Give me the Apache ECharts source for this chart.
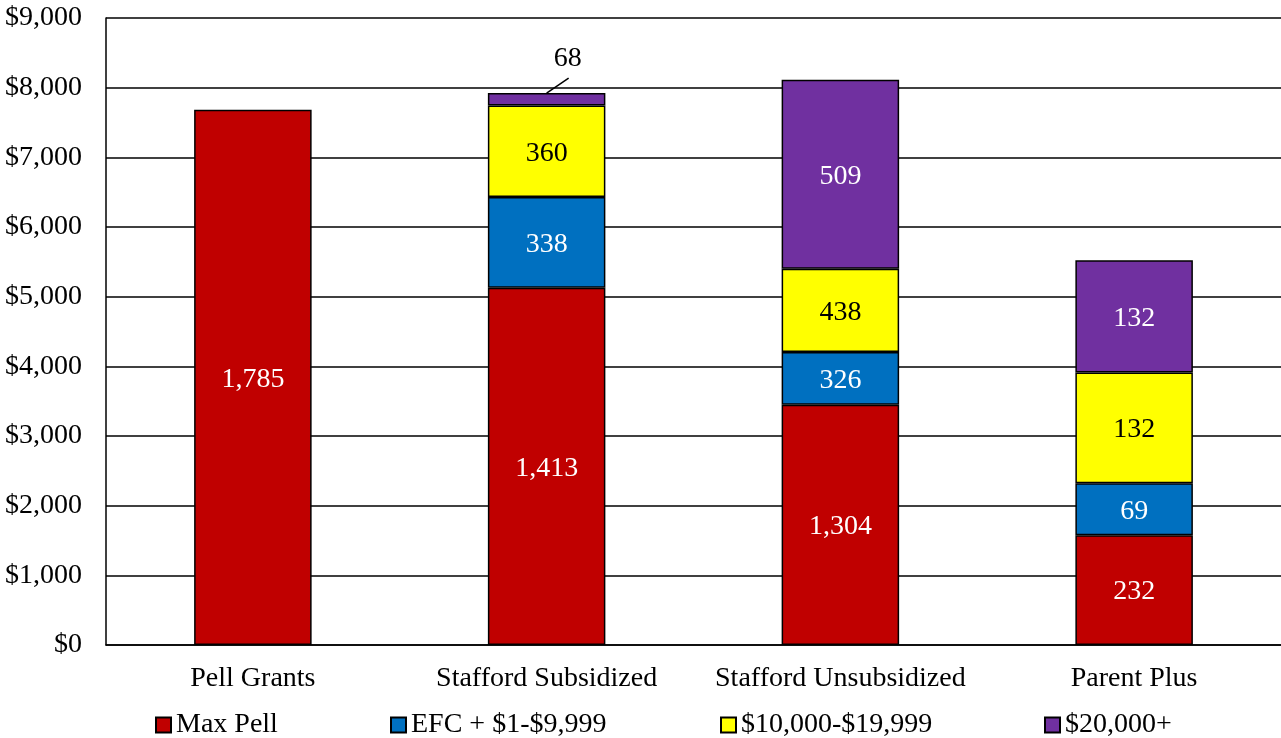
<!DOCTYPE html>
<html>
<head>
<meta charset="utf-8">
<script src="https://cdn.jsdelivr.net/npm/echarts@6/dist/echarts.min.js"></script>
<style>
html, body { margin: 0; padding: 0; background: #fff; }
#chart { width: 1281px; height: 738px; }
</style>
</head>
<body>
<div id="chart"></div>
<script>
// categories on the x axis
var categories = ['Pell Grants', 'Stafford Subsidized', 'Stafford Unsubsidized', 'Parent Plus'];

// bar segment heights (dollars)
var maxPell = [7683, 5129, 3450, 1575];
var efcLow = [null, 1301, 757, 746];
var midIncome = [null, 1315, 1195, 1589];
var highIncome = [null, 177, 2711, 1611];

// numbers printed inside the segments
var maxPellLabels = [1785, 1413, 1304, 232];
var efcLowLabels = [null, 338, 326, 69];
var midIncomeLabels = [null, 360, 438, 132];
var highIncomeLabels = [null, 68, 509, 132];

// segment too thin for its label -> label sits above with a leader line
var outsideIndex = 1;

var yTicks = [0, 1000, 2000, 3000, 4000, 5000, 6000, 7000, 8000, 9000];

var FONT = '"Liberation Serif", "Times New Roman", serif';
var FS = 28;

function fmt(n) {
	return n == null ? '' : n.toLocaleString('en-US');
}

function makeSeries(name, data, labels, color, textColor) {
	return {
		name: name,
		type: 'bar',
		stack: 'total',
		barWidth: '40%',
		data: data,
		itemStyle: { color: color, borderColor: '#000', borderWidth: 1.5 },
		label: {
			show: true,
			position: 'inside',
			offset: [0, 2],
			color: textColor,
			fontFamily: FONT,
			fontSize: FS,
			formatter: function (p) {
				if (labels === highIncomeLabels && p.dataIndex === outsideIndex) return '';
				return fmt(labels[p.dataIndex]);
			}
		}
	};
}

// top of the stack where the outside label hangs
var outsideTop = maxPell[outsideIndex] + efcLow[outsideIndex] + midIncome[outsideIndex] + highIncome[outsideIndex];

var chart = echarts.init(document.getElementById('chart'));

function legendAt(name, left) {
	return {
		data: [name],
		left: left,
		top: 711,
		padding: 0,
		itemWidth: 15,
		itemHeight: 15,
		itemGap: 0,
		icon: 'rect',
		textStyle: { fontFamily: FONT, fontSize: FS, color: '#000' }
	};
}

chart.setOption({
	animation: false,
	backgroundColor: '#fff',
	grid: { left: 106, right: 0, top: 18, bottom: 93 },
	legend: [
		legendAt('Max Pell', 155),
		legendAt('EFC + $1-$9,999', 390),
		legendAt('$10,000-$19,999', 720),
		legendAt('$20,000+', 1044)
	],
	xAxis: {
		type: 'category',
		data: categories,
		axisTick: { show: false },
		axisLine: { lineStyle: { color: '#000', width: 1.5 } },
		axisLabel: { color: '#000', fontFamily: FONT, fontSize: FS, margin: 20, interval: 0 }
	},
	yAxis: {
		type: 'value',
		min: yTicks[0],
		max: yTicks[yTicks.length - 1],
		interval: 1000,
		axisLine: { show: true, lineStyle: { color: '#000', width: 1.5 } },
		axisTick: { show: false },
		splitLine: { lineStyle: { color: '#000', width: 1.5 } },
		axisLabel: {
			color: '#000',
			fontFamily: FONT,
			fontSize: FS,
			margin: 24,
			formatter: function (v) { return '$' + v.toLocaleString('en-US'); }
		}
	},
	series: [
		makeSeries('Max Pell', maxPell, maxPellLabels, '#C00000', '#fff'),
		makeSeries('EFC + $1-$9,999', efcLow, efcLowLabels, '#0070C0', '#fff'),
		makeSeries('$10,000-$19,999', midIncome, midIncomeLabels, '#FFFF00', '#000'),
		makeSeries('$20,000+', highIncome, highIncomeLabels, '#7030A0', '#fff'),
		{
			type: 'custom',
			silent: true,
			z: 5,
			data: [[outsideIndex, outsideTop, highIncomeLabels[outsideIndex]]],
			renderItem: function (params, api) {
				var pt = api.coord([api.value(0), api.value(1)]);
				return {
					type: 'group',
					children: [
						{
							type: 'line',
							shape: { x1: pt[0], y1: pt[1], x2: pt[0] + 22, y2: pt[1] - 15 },
							style: { stroke: '#000', lineWidth: 1.5 }
						},
						{
							type: 'text',
							x: pt[0] + 21,
							y: pt[1] - 34,
							style: {
								text: fmt(api.value(2)),
								fill: '#000',
								font: FS + 'px ' + FONT,
								align: 'center',
								verticalAlign: 'middle'
							}
						}
					]
				};
			}
		}
	]
});
</script>
</body>
</html>
